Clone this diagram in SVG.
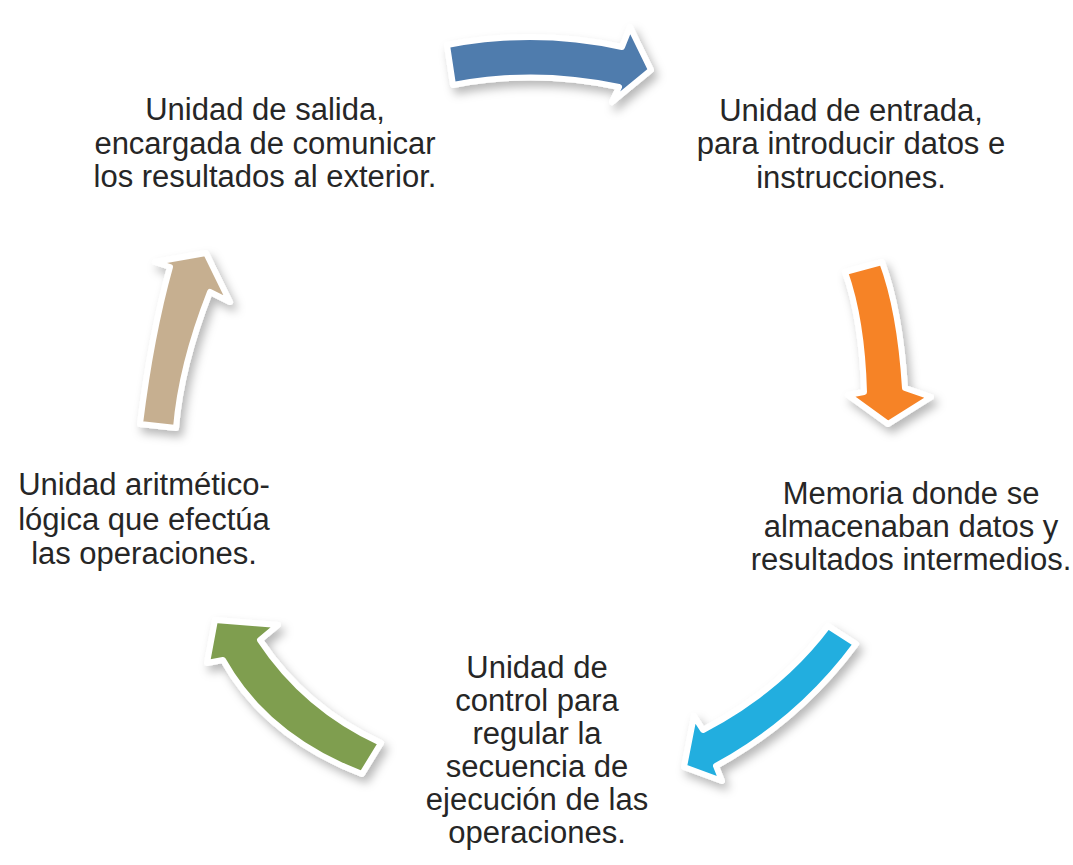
<svg xmlns="http://www.w3.org/2000/svg" width="1073" height="865" viewBox="0 0 1073 865">
  <defs>
    <filter id="shadow" x="-30%" y="-30%" width="160%" height="160%">
      <feDropShadow dx="4" dy="6" stdDeviation="5" flood-color="#000" flood-opacity="0.28"/>
    </filter>
  </defs>
  <style>
    .lbl { font-family: "Liberation Sans", Arial, sans-serif; font-size: 31px; fill: #262626; text-anchor: middle; }
    .arrow { stroke: #ffffff; stroke-width: 6; stroke-linejoin: round; filter: url(#shadow); }
  </style>
  <rect width="1073" height="865" fill="#ffffff"/>

  <g id="connectors">
    <path class="arrow" fill="#4f7bad" d="M447,45 Q535,28 622,47 L630,27 L651,70 L612,102 L619,87 Q535,69 453,85 Z"/>
    <path class="arrow" fill="#f68326" d="M845,272 L882,262 Q900,310 905,388 L931,397 L888,424 L848,395 L864,392 Q862,320 845,272 Z"/>
    <path class="arrow" fill="#22aedf" d="M828,626 L856,644 Q800,720 716,766 L722,781 L684,767 L694,716 L703,730 Q780,690 828,626 Z"/>
    <path class="arrow" fill="#7f9e4f" d="M381,743 L362,774 Q266,737 223,660 L207,663 L215,620 L278,625 L260,640 Q305,708 381,743 Z"/>
    <path class="arrow" fill="#c6af90" d="M140,424 Q151,335 170,267 L155,262 L206,253 L230,302 L210,292 Q181,366 176,428 Z"/>
  </g>

  <g id="node-salida">
    <text class="lbl" x="265" y="120">Unidad de salida,</text>
    <text class="lbl" x="265" y="154">encargada de comunicar</text>
    <text class="lbl" x="265" y="187">los resultados al exterior.</text>
  </g>
  <g id="node-entrada">
    <text class="lbl" x="851" y="121">Unidad de entrada,</text>
    <text class="lbl" x="851" y="154">para introducir datos e</text>
    <text class="lbl" x="851" y="188">instrucciones.</text>
  </g>
  <g id="node-memoria">
    <text class="lbl" x="911" y="504">Memoria donde se</text>
    <text class="lbl" x="911" y="537">almacenaban datos y</text>
    <text class="lbl" x="911" y="570">resultados intermedios.</text>
  </g>
  <g id="node-control">
    <text class="lbl" x="537" y="678">Unidad de</text>
    <text class="lbl" x="537" y="711">control para</text>
    <text class="lbl" x="537" y="744">regular la</text>
    <text class="lbl" x="537" y="777">secuencia de</text>
    <text class="lbl" x="537" y="810">ejecución de las</text>
    <text class="lbl" x="537" y="843">operaciones.</text>
  </g>
  <g id="node-alu">
    <text class="lbl" x="144" y="495">Unidad aritmético-</text>
    <text class="lbl" x="144" y="530">lógica que efectúa</text>
    <text class="lbl" x="144" y="564">las operaciones.</text>
  </g>
</svg>
